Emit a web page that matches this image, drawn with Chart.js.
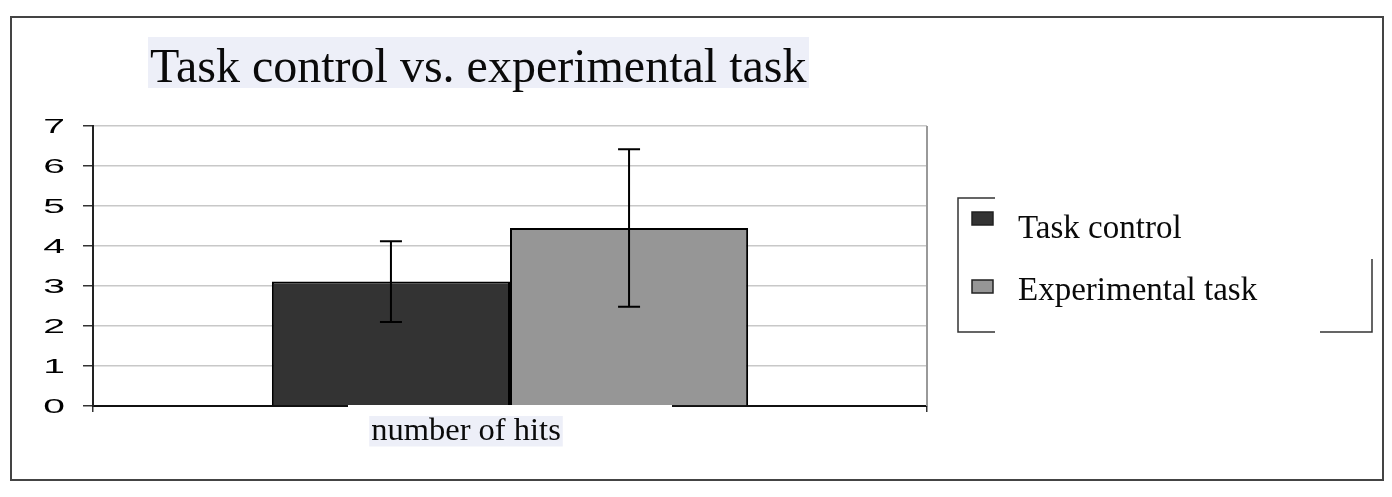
<!DOCTYPE html>
<html lang="en">
<head>
  <meta charset="UTF-8">
  <title>Task control vs. experimental task</title>
  <script src="https://cdn.jsdelivr.net/npm/chart.js@4.4.1/dist/chart.umd.min.js"></script>
  <style>
    html, body { margin: 0; padding: 0; background: #fff; }
    #wrap { width: 1392px; height: 497px; }
  </style>
</head>
<body>
  <div id="wrap"><canvas id="myChart"></canvas></div>
  <script>
    const categories = ['number of hits']
    const seriesNames = ['Task control', 'Experimental task']
    const controlValues = [3.11]
    const controlErrors = [1.01]
    const experimentalValues = [4.45]
    const experimentalErrors = [1.97]
    const yTicks = [0, 1, 2, 3, 4, 5, 6, 7]

    const colors = {
      control: '#333333',
      experimental: '#969696',
      highlight: '#edeff8',
      grid: '#c8c8c8'
    }
    const serif = '"Liberation Serif", "Times New Roman", serif'

    // background, outer frame, title with its highlight
    const framePlugin = {
      id: 'frame',
      beforeDraw(chart) {
        const ctx = chart.ctx
        ctx.save()
        ctx.fillStyle = '#fff'
        ctx.fillRect(0, 0, chart.width, chart.height)
        ctx.strokeStyle = '#444'
        ctx.lineWidth = 2
        ctx.strokeRect(11, 17, 1372, 463)
        ctx.fillStyle = colors.highlight
        ctx.fillRect(148, 37, 661, 51)
        ctx.fillStyle = '#0a0a0a'
        ctx.font = '48px ' + serif
        ctx.textBaseline = 'alphabetic'
        ctx.fillText('Task control vs. experimental task', 150, 82)
        ctx.restore()
      }
    }

    // error bars, right edge of plot, y labels, legend
    const extrasPlugin = {
      id: 'extras',
      afterDatasetsDraw(chart) {
        const ctx = chart.ctx
        const y = chart.scales.y
        const area = chart.chartArea
        ctx.save()

        ctx.strokeStyle = '#999'
        ctx.lineWidth = 2
        ctx.beginPath()
        ctx.moveTo(area.right, area.top)
        ctx.lineTo(area.right, area.bottom)
        ctx.stroke()

        // white gap on the zero line under the category label
        const cx = chart.scales.x.getPixelForValue(0)
        ctx.fillStyle = '#fff'
        ctx.fillRect(cx - 162, y.getPixelForValue(0) - 1, 324, 4)

        chart.data.datasets.forEach((ds, i) => {
          const meta = chart.getDatasetMeta(i)
          meta.data.forEach((bar, j) => {
            const v = ds.data[j]
            const e = ds.errors[j]
            const top = y.getPixelForValue(v + e)
            const bot = y.getPixelForValue(v - e)
            ctx.strokeStyle = '#000'
            ctx.lineWidth = 2
            ctx.beginPath()
            ctx.moveTo(bar.x, top)
            ctx.lineTo(bar.x, bot)
            ctx.moveTo(bar.x - 11, top)
            ctx.lineTo(bar.x + 11, top)
            ctx.moveTo(bar.x - 11, bot)
            ctx.lineTo(bar.x + 11, bot)
            ctx.stroke()
          })
        })
        ctx.restore()
      },
      afterDraw(chart) {
        const ctx = chart.ctx
        const y = chart.scales.y
        ctx.save()

        // wide y tick labels
        ctx.fillStyle = '#000'
        ctx.strokeStyle = '#000'
        ctx.lineWidth = 0.4
        ctx.font = '20px "Liberation Sans", Arial, sans-serif'
        ctx.textAlign = 'right'
        ctx.textBaseline = 'middle'
        y.ticks.forEach(t => {
          ctx.save()
          ctx.translate(65, y.getPixelForValue(t.value))
          ctx.scale(1.95, 1)
          ctx.fillText(String(t.value), 0, 1)
          ctx.restore()
        })

        // legend box (broken border as in the original)
        ctx.strokeStyle = '#333'
        ctx.lineWidth = 1.5
        ctx.beginPath()
        ctx.moveTo(995, 198); ctx.lineTo(958, 198); ctx.lineTo(958, 332); ctx.lineTo(995, 332)
        ctx.moveTo(1320, 332); ctx.lineTo(1372, 332); ctx.lineTo(1372, 259)
        ctx.stroke()

        const rows = [{ sy: 212, ty: 238 }, { sy: 280, ty: 300 }]
        chart.data.datasets.forEach((ds, i) => {
          const r = rows[i]
          ctx.fillStyle = ds.backgroundColor
          ctx.fillRect(972, r.sy, 21, 13)
          ctx.strokeStyle = '#222'
          ctx.lineWidth = 1.5
          ctx.strokeRect(972, r.sy, 21, 13)
          ctx.fillStyle = '#0a0a0a'
          ctx.font = '33px ' + serif
          ctx.textAlign = 'left'
          ctx.textBaseline = 'alphabetic'
          ctx.fillText(ds.label, 1018, r.ty)
        })
        ctx.restore()
      }
    }

    const ctx = document.getElementById('myChart').getContext('2d')
    const chart = new Chart(ctx, {
      type: 'bar',
      data: {
        labels: categories,
        datasets: [
          {
            label: seriesNames[0],
            data: controlValues,
            errors: controlErrors,
            backgroundColor: colors.control,
            borderColor: '#000',
            borderWidth: 2
          },
          {
            label: seriesNames[1],
            data: experimentalValues,
            errors: experimentalErrors,
            backgroundColor: colors.experimental,
            borderColor: '#000',
            borderWidth: 2
          }
        ]
      },
      options: {
        responsive: true,
        maintainAspectRatio: false,
        animation: false,
        barPercentage: 1,
        categoryPercentage: 0.571,
        layout: {
          padding: { left: 0, top: 126, right: 465, bottom: 0 }
        },
        plugins: {
          legend: { display: false },
          title: { display: false },
          tooltip: { enabled: false }
        },
        scales: {
          x: {
            afterFit: s => { s.height = 91 },
            grid: {
              drawOnChartArea: false,
              drawTicks: true,
              tickLength: 6,
              color: '#333',
              lineWidth: 1.5
            },
            border: { color: '#111', width: 2 },
            ticks: {
              color: '#0a0a0a',
              font: { family: serif, size: 32.5, lineHeight: 1 },
              padding: 3,
              labelOffset: -44,
              showLabelBackdrop: true,
              backdropColor: colors.highlight,
              backdropPadding: { top: -1, bottom: -1, left: 2, right: 2 }
            }
          },
          y: {
            min: 0,
            max: 7,
            afterFit: s => { s.width = 93 },
            afterBuildTicks: s => { s.ticks = yTicks.map(v => ({ value: v })) },
            grid: {
              color: c => (c.tick && c.tick.value === 0 ? '#000' : colors.grid),
              tickColor: '#333',
              lineWidth: 1.5,
              tickLength: 10
            },
            border: { color: '#222', width: 2 },
            ticks: { display: false, stepSize: 1 }
          }
        }
      },
      plugins: [framePlugin, extrasPlugin]
    })
  </script>
</body>
</html>
